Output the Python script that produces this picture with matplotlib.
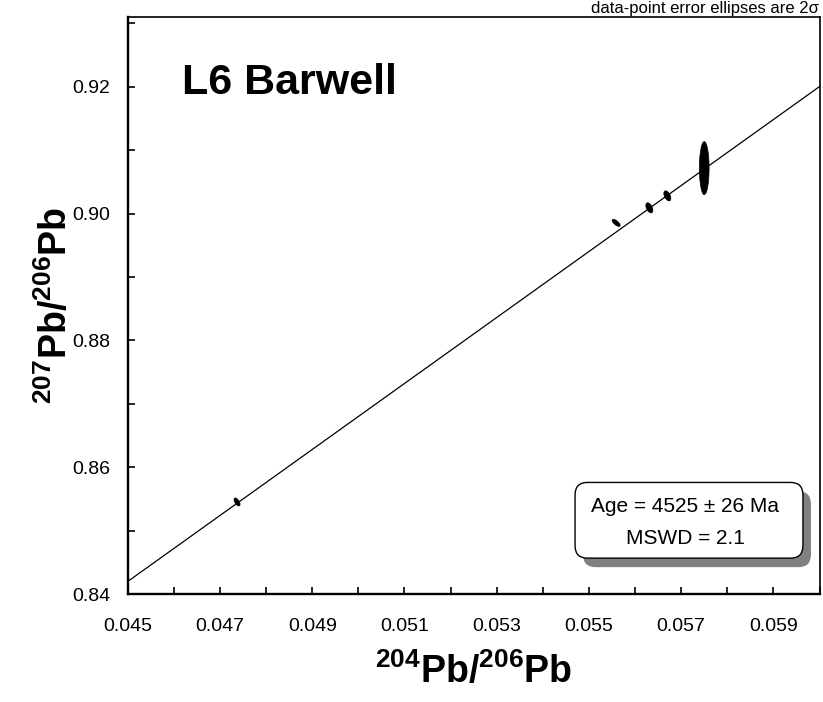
import numpy as np
import matplotlib
matplotlib.use('Agg')
import matplotlib.pyplot as plt
from matplotlib import rcParams
from matplotlib.patches import FancyBboxPatch

rcParams['font.family'] = ['Liberation Sans', 'DejaVu Sans']
rcParams['mathtext.fontset'] = 'custom'
rcParams['mathtext.rm'] = 'Liberation Sans:bold'
rcParams['mathtext.bf'] = 'Liberation Sans:bold'
rcParams['mathtext.it'] = 'Liberation Sans:bold'

# data points (204Pb/206Pb, 207Pb/206Pb) with 2-sigma half extents and error correlation
ell_x = [0.04737, 0.05559, 0.05631, 0.05670, 0.05750]
ell_y = [0.85452, 0.89854, 0.90091, 0.90280, 0.90717]
ell_sx = [6.5e-5, 8.7e-5, 7.6e-5, 7.6e-5, 1.05e-4]
ell_sy = [6.3e-4, 5.5e-4, 7.9e-4, 7.9e-4, 4.18e-3]
ell_rho = [-0.6, -0.7, -0.5, -0.5, 0.0]

# isochron fit
intercept = 0.6078
slope = 5.204

x_range = [0.045, 0.060]
y_range = [0.84, 0.931]
x_major = [0.045, 0.047, 0.049, 0.051, 0.053, 0.055, 0.057, 0.059]
x_minor = [0.046, 0.048, 0.050, 0.052, 0.054, 0.056, 0.058, 0.060]
y_major = [0.84, 0.86, 0.88, 0.90, 0.92]
y_minor = [0.85, 0.87, 0.89, 0.91, 0.93]

title = 'L6 Barwell'
age_text = 'Age = 4525 ± 26 Ma\nMSWD = 2.1'
note = 'data-point error ellipses are 2σ'


def ellipse_path(cx, cy, sx, sy, rho, n=100):
    t = np.linspace(0, 2 * np.pi, n)
    ex = cx + sx * np.cos(t)
    ey = cy + sy * (rho * np.cos(t) + np.sqrt(1 - rho ** 2) * np.sin(t))
    return ex, ey


fig = plt.figure(figsize=(8.23, 7.02), dpi=100)
ax = fig.add_axes([0.1552, 0.1538, 0.8406, 0.8219])

lx = np.array(x_range)
ax.plot(lx, intercept + slope * lx, color='black', lw=0.9, zorder=3)

for cx, cy, sx, sy, r in zip(ell_x, ell_y, ell_sx, ell_sy, ell_rho):
    ex, ey = ellipse_path(cx, cy, sx, sy, r)
    ax.fill(ex, ey, color='black', lw=0.5, zorder=4)

ax.set_xlim(*x_range)
ax.set_ylim(*y_range)

ax.set_xticks(x_major)
ax.set_xticks(x_minor, minor=True)
ax.set_yticks(y_major)
ax.set_yticks(y_minor, minor=True)
ax.set_xticklabels([f'{v:.3f}' for v in x_major])
ax.set_yticklabels([f'{v:.2f}' for v in y_major])
ax.tick_params(which='both', direction='in', length=5, width=1.2,
               top=False, right=False, labelsize=14)
ax.tick_params(axis='x', pad=17)
ax.tick_params(axis='y', pad=12.5)

for side in ['left', 'bottom']:
    ax.spines[side].set_linewidth(1.7)
for side in ['top', 'right']:
    ax.spines[side].set_linewidth(1.2)

ax.set_xlabel(r'$^{204}$Pb/$^{206}$Pb', fontsize=27, fontweight='bold', labelpad=13)
ax.set_ylabel(r'$^{207}$Pb/$^{206}$Pb', fontsize=27, fontweight='bold', labelpad=-2)

ax.text(0.078, 0.8675, title, transform=ax.transAxes, fontsize=31,
        fontweight='bold', va='baseline', ha='left')

# age box with drop shadow
bx, by, bw, bh = 0.6466, 0.0622, 0.3294, 0.1312
aspect = (0.8219 * 702) / (0.8406 * 823)
sh_dx, sh_dy = 8 / (0.8406 * 823), 9 / (0.8219 * 702)
shadow = FancyBboxPatch((bx + sh_dx, by - sh_dy), bw, bh, transform=ax.transAxes,
                        boxstyle='round,pad=0,rounding_size=0.018',
                        mutation_aspect=1 / aspect, facecolor='#808080',
                        edgecolor='none', zorder=5)
box = FancyBboxPatch((bx, by), bw, bh, transform=ax.transAxes,
                     boxstyle='round,pad=0,rounding_size=0.018',
                     mutation_aspect=1 / aspect, facecolor='white',
                     edgecolor='black', lw=1.0, zorder=6)
ax.add_patch(shadow)
ax.add_patch(box)
ax.text(0.806, 0.124, age_text, transform=ax.transAxes, fontsize=15,
        ha='center', va='center', linespacing=1.85, zorder=7)

fig.text(0.995, 0.9815, note, fontsize=12, ha='right', va='baseline')

plt.savefig('out.png', dpi=100)
plt.close()
